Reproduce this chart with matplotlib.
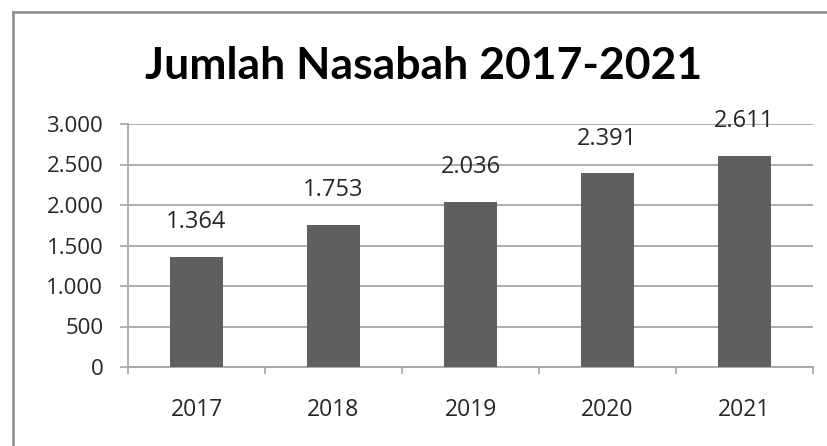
import matplotlib
matplotlib.use("Agg")
import matplotlib.pyplot as plt
from matplotlib.lines import Line2D

years = ["2017", "2018", "2019", "2020", "2021"]
values = [1364, 1753, 2036, 2391, 2611]
value_labels = ["1.364", "1.753", "2.036", "2.391", "2.611"]
yticks = [0, 500, 1000, 1500, 2000, 2500, 3000]
ytick_labels = ["0", "500", "1.000", "1.500", "2.000", "2.500", "3.000"]
title = "Jumlah Nasabah 2017-2021"

W, H = 827, 446
fig = plt.figure(figsize=(W / 100, H / 100), dpi=100)
fig.patch.set_facecolor("white")

# axes placement in pixels
x0, x1 = 128, 813
y0, y1 = 367, 124
ax = fig.add_axes([x0 / W, 1 - y0 / H, (x1 - x0) / W, (y0 - y1) / H])

font = "Open Sans"
grid_c = "#a6a6a6"
bar_c = "#5f5f5f"
txt_c = "#262626"

xs = list(range(len(years)))
ax.bar(xs, values, width=0.38, color=bar_c, zorder=3)
ax.set_xlim(-0.5, len(years) - 0.5)
ax.set_ylim(0, 3000)

ax.set_yticks(yticks)
ax.set_yticklabels(ytick_labels, fontsize=16, family=font, color=txt_c)
ax.yaxis.grid(True, color=grid_c, linewidth=1.3, zorder=1)
ax.tick_params(axis="y", length=5.8, width=1.2, color=grid_c, pad=12)

ax.set_xticks(xs)
ax.set_xticklabels(years, fontsize=16.5, family=font, color=txt_c)
ax.tick_params(axis="x", length=0, pad=22)
ax.set_xticks([i - 0.5 for i in range(len(years) + 1)], minor=True)
ax.tick_params(axis="x", which="minor", length=5, width=1.2, color=grid_c)

for s in ["top", "right"]:
    ax.spines[s].set_visible(False)
for s in ["left", "bottom"]:
    ax.spines[s].set_color(grid_c)
    ax.spines[s].set_linewidth(1.3)

for x, v, lab in zip(xs, values, value_labels):
    ax.annotate(lab, (x, v), xytext=(0, 25), textcoords="offset points",
                ha="center", va="center", fontsize=17, family=font, color=txt_c)

fig.text(424 / W, 1 - 66 / H, title, ha="center", va="center",
         fontsize=32, fontweight="bold", family="Lato", color="black")

# figure border (left and top visible)
fig.add_artist(Line2D([12.5 / W, 12.5 / W], [0, 1 - 11.5 / H], transform=fig.transFigure,
                      color="#8a8a8a", linewidth=1.8))
fig.add_artist(Line2D([12.5 / W, 1], [1 - 11.5 / H, 1 - 11.5 / H], transform=fig.transFigure,
                      color="#8a8a8a", linewidth=1.8))

fig.savefig("out.png", dpi=100, facecolor="white")
